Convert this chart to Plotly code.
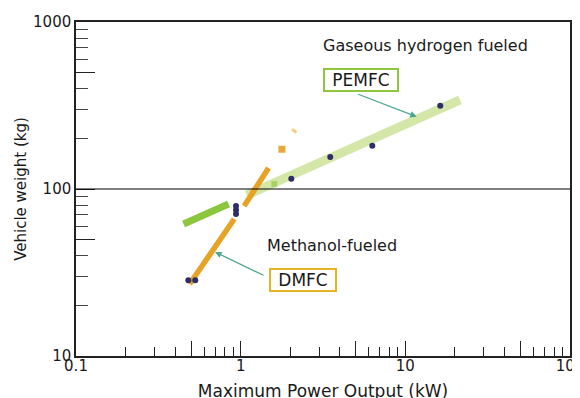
import numpy as np
import plotly.graph_objects as go

# ---- data ----
pemfc_band_x = [1.09, 21.5]          # gaseous-hydrogen PEMFC trend band
pemfc_band_y = [92, 342]
pemfc_short_x = [0.45, 0.844]        # short darker green band
pemfc_short_y = [61.7, 81.3]
dmfc_low_x = [0.49, 0.914]           # DMFC trend (lower segment)
dmfc_low_y = [27.0, 66.1]
dmfc_up_x = [1.05, 1.477]            # DMFC trend (upper segment)
dmfc_up_y = [79.1, 133.6]
dmfc_dot_x = [1.78]
dmfc_dot_y = [173]
dmfc_dash_x = [2.05, 2.18]
dmfc_dash_y = [228, 218]
green_patch_x = [1.60]
green_patch_y = [107]
vehicle_x = [0.481, 0.530, 0.937, 0.937, 0.937, 2.03, 3.50, 6.30, 16.3]
vehicle_y = [28.4, 28.4, 79.1, 74.8, 70.8, 115, 155.6, 181.8, 314.7]

x_major = [0.1, 0.5, 1, 5, 10, 50, 100]
x_major_text = ["0.1", "", "1", "", "10", "", "100"]
x_minor = [0.2, 0.3, 0.4, 0.6, 0.7, 0.8, 0.9, 2, 3, 4, 6, 7, 8, 9, 20, 30, 40, 60, 70, 80, 90]
y_major = [10, 50, 100, 500, 1000]
y_major_text = ["10", "", "100", "", "1000"]
y_minor = [20, 30, 40, 60, 70, 80, 90, 200, 300, 400, 600, 700, 800, 900]

FONT = "DejaVu Sans"
fig = go.Figure()

fig.add_trace(go.Scatter(x=pemfc_band_x, y=pemfc_band_y, mode="lines",
                         line=dict(color="#d4e7a8", width=9), hoverinfo="skip"))
fig.add_trace(go.Scatter(x=pemfc_short_x, y=pemfc_short_y, mode="lines",
                         line=dict(color="#8cc63e", width=7), hoverinfo="skip"))
fig.add_trace(go.Scatter(x=dmfc_low_x, y=dmfc_low_y, mode="lines",
                         line=dict(color="#e7a325", width=5.5), hoverinfo="skip"))
fig.add_trace(go.Scatter(x=dmfc_up_x, y=dmfc_up_y, mode="lines",
                         line=dict(color="#e7a325", width=5.5), hoverinfo="skip"))
fig.add_trace(go.Scatter(x=dmfc_dash_x, y=dmfc_dash_y, mode="lines",
                         line=dict(color="#f3cf8a", width=3), hoverinfo="skip"))
fig.add_trace(go.Scatter(x=dmfc_dot_x, y=dmfc_dot_y, mode="markers",
                         marker=dict(symbol="square", size=7, color="#e9a83a"), hoverinfo="skip"))
fig.add_trace(go.Scatter(x=green_patch_x, y=green_patch_y, mode="markers",
                         marker=dict(symbol="square", size=6, color="#a8d266"), hoverinfo="skip"))
fig.add_trace(go.Scatter(x=vehicle_x, y=vehicle_y, mode="markers",
                         marker=dict(symbol="circle", size=6, color="#2e2d66"), hoverinfo="skip"))

# horizontal reference line at 100 kg
fig.add_shape(type="line", xref="paper", x0=0, x1=1, yref="y", y0=100, y1=100,
              line=dict(color="#000000", width=1.2))

ann_font = dict(family=FONT, size=16, color="#1a1a1a")
box_font = dict(family=FONT, size=17, color="#1a1a1a")
common = dict(xref="paper", yref="paper", xanchor="center", yanchor="middle", showarrow=False)
fig.add_annotation(x=0.7065, y=0.931, text="Gaseous hydrogen fueled", font=ann_font, **common)
fig.add_annotation(x=0.518, y=0.332, text="Methanol-fueled", font=ann_font, **common)
fig.add_annotation(x=0.577, y=0.826, text="PEMFC", font=box_font, bordercolor="#8dc63f",
                   borderwidth=2, borderpad=1, bgcolor="white", width=70, height=18, **common)
fig.add_annotation(x=0.4595, y=0.228, text="DMFC", font=box_font, bordercolor="#e6b422",
                   borderwidth=2, borderpad=1, bgcolor="white", width=62, height=18, **common)
# arrows
fig.add_annotation(xref="paper", yref="paper", x=0.6897, y=0.7165, text="", showarrow=True,
                   ax=-60, ay=-23, arrowhead=2, arrowsize=1, arrowwidth=1.3, arrowcolor="#4da88f")
fig.add_annotation(xref="paper", yref="paper", x=0.2814, y=0.3114, text="", showarrow=True,
                   ax=50, ay=24, arrowhead=2, arrowsize=1, arrowwidth=1.3, arrowcolor="#4da88f")

fig.update_layout(
    width=580, height=398,
    margin=dict(l=68, r=18, t=14, b=50),
    paper_bgcolor="white", plot_bgcolor="white",
    showlegend=False,
    font=dict(family=FONT, size=15, color="#1a1a1a"),
    xaxis=dict(
        type="log", range=[-1, 2], showgrid=False, zeroline=False,
        showline=True, linecolor="#222222", linewidth=1.5, mirror=True,
        ticks="inside", ticklen=15, tickwidth=1, tickcolor="#222222",
        tickmode="array", tickvals=x_major, ticktext=x_major_text,
        tickfont=dict(family=FONT, size=15), ticklabelstandoff=-5,
        minor=dict(tickmode="array", tickvals=x_minor, ticks="inside", ticklen=9,
                   tickwidth=1, tickcolor="#222222", showgrid=False),
        title=dict(text="Maximum Power Output (kW)", font=dict(family=FONT, size=17), standoff=11),
        automargin=False,
    ),
    yaxis=dict(
        type="log", range=[1, 3], showgrid=False, zeroline=False,
        showline=True, linecolor="#222222", linewidth=1.5, mirror=True,
        ticks="inside", ticklen=19, tickwidth=1, tickcolor="#222222",
        tickmode="array", tickvals=y_major, ticktext=y_major_text,
        tickfont=dict(family=FONT, size=15),
        minor=dict(tickmode="array", tickvals=y_minor, ticks="inside", ticklen=12,
                   tickwidth=1, tickcolor="#444444", showgrid=False),
        title=dict(text="Vehicle weight (kg)", font=dict(family=FONT, size=15), standoff=3),
        automargin=False,
    ),
)

fig.write_html("out.html")
